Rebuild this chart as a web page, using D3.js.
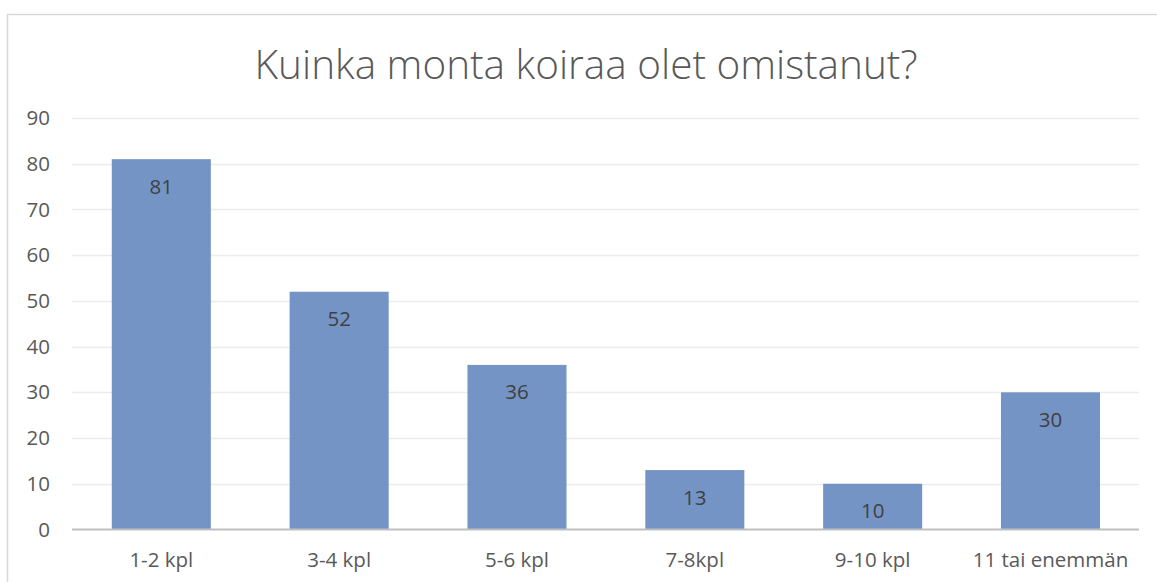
<!DOCTYPE html>
<html><head><meta charset="utf-8">
<script src="https://cdn.jsdelivr.net/npm/d3@7/dist/d3.min.js"></script>
<style>body{margin:0;background:#fff;} svg{display:block;}</style>
</head><body>
<svg id="c" width="1157" height="582"></svg>
<script>
const title = "Kuinka monta koiraa olet omistanut?";
const categories = ["1-2 kpl","3-4 kpl","5-6 kpl","7-8kpl","9-10 kpl","11 tai enemmän"];
const values = [81,52,36,13,10,30];
const yTicks = [0,10,20,30,40,50,60,70,80,90];

const svg = d3.select("#c");
const font = "'Open Sans', sans-serif";
// chart border
svg.append("rect").attr("x",7.5).attr("y",14.5).attr("width",1200).attr("height",700)
  .attr("fill","#fff").attr("stroke","#d9d9d9").attr("stroke-width",1.5);

const x = d3.scaleBand().domain(categories).range([72.4,1139.4]).paddingInner(0.443).paddingOuter(0.2215);
const y = d3.scaleLinear().domain([0,90]).range([529.5,118]);

svg.append("text").attr("x",586).attr("y",79).attr("text-anchor","middle")
  .attr("font-family",font).attr("font-weight",300).attr("font-size",40.5)
  .attr("fill","#595959").text(title);

// gridlines
svg.append("g").selectAll("line").data(yTicks.filter(d=>d>0)).join("line")
  .attr("x1",72).attr("x2",1139).attr("y1",d=>Math.round(y(d))+0.5).attr("y2",d=>Math.round(y(d))+0.5)
  .attr("stroke","#ececec").attr("stroke-width",1.3);

// y tick labels via axis
const yAxis = svg.append("g").attr("transform","translate(50,0)")
  .call(d3.axisLeft(y).tickValues(yTicks).tickSize(0).tickPadding(0));
yAxis.select(".domain").remove();
yAxis.selectAll("text").attr("font-family",font).attr("font-size",20.5).attr("fill","#595959");

// bars
svg.append("g").selectAll("rect").data(values).join("rect")
  .attr("x",(d,i)=>x(categories[i])).attr("width",x.bandwidth())
  .attr("y",d=>y(d)).attr("height",d=>y(0)-y(d)).attr("fill","#6a8cc2").attr("fill-opacity",0.93);

// data labels
svg.append("g").selectAll("text").data(values).join("text")
  .attr("x",(d,i)=>x(categories[i])+x.bandwidth()/2).attr("y",d=>y(d)+34.5)
  .attr("text-anchor","middle").attr("font-family",font).attr("font-size",20.5)
  .attr("fill","#404040").text(d=>d);

// x axis
const xAxis = svg.append("g").attr("transform","translate(0,529.5)")
  .call(d3.axisBottom(x).tickSize(0).tickPadding(23));
xAxis.select(".domain").attr("stroke","#bfbfbf").attr("stroke-width",2.2).attr("d","M72,0H1139");
xAxis.selectAll("text").attr("font-family",font).attr("font-size",20.5).attr("fill","#595959");
</script>
</body></html>
